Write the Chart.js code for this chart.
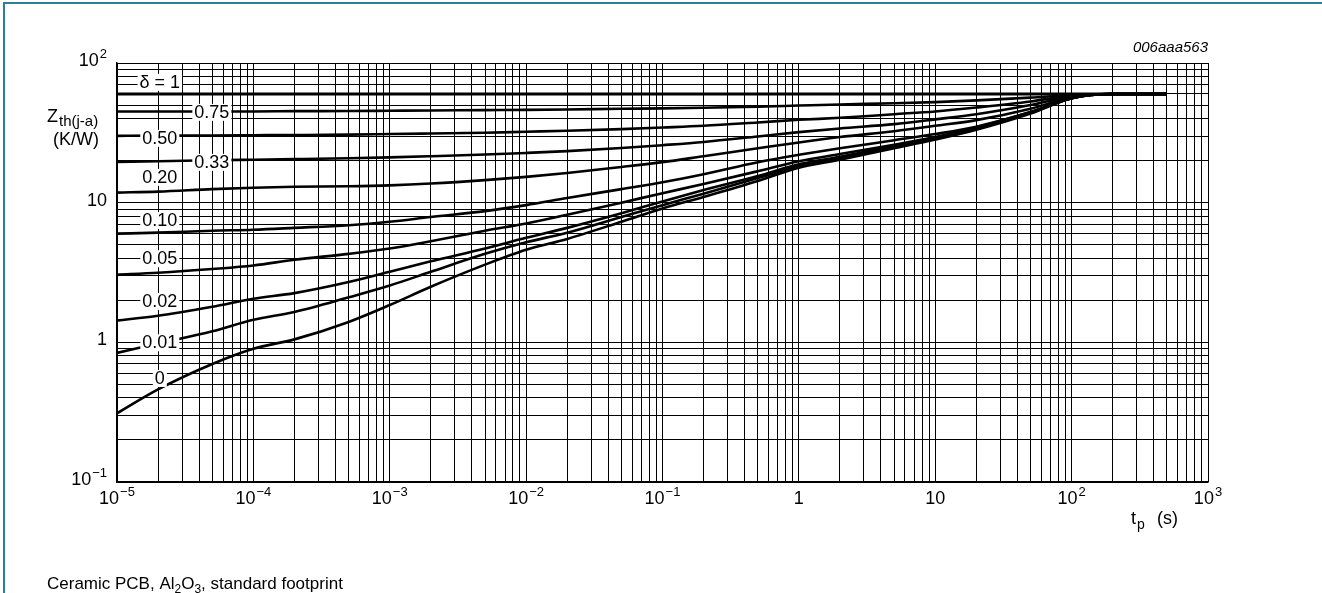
<!DOCTYPE html>
<html>
<head>
<meta charset="utf-8">
<script src="https://cdn.jsdelivr.net/npm/chart.js@4.4.0/dist/chart.umd.min.js"></script>
<style>
  html, body { margin: 0; padding: 0; background: #fff; }
  #c { display: block; }
</style>
</head>
<body>
<canvas id="c" width="1322" height="593"></canvas>
<script>
// pulse time tp (s)
var tp = [1e-5, 2e-5, 5e-5, 1e-4, 2e-4, 5e-4, 1e-3, 2e-3, 5e-3, 1e-2, 2e-2, 5e-2,
          0.1, 0.2, 0.5, 1, 2, 5, 10, 20, 50, 100, 200, 500];

// Zth(j-a) in K/W, one array per duty cycle
var zth_d100 = [60, 60, 60, 60, 60, 60, 60, 60, 60, 60, 60, 60, 60, 60, 60, 60, 60, 60, 60, 60, 60, 60, 60, 60];
var zth_d075 = [45, 45, 45, 45, 45.2, 45.3, 45.5, 45.7, 46, 46.2, 46.5, 47, 47.3, 47.8, 48.7, 49.6, 50.5, 51.5, 52.5, 54, 56.5, 59, 60, 60];
var zth_d050 = [30.1, 30.2, 30.3, 30.4, 30.5, 30.7, 31, 31.3, 31.7, 32.2, 32.7, 33.6, 34.5, 35.5, 37.5, 39.2, 40.5, 43, 45, 48, 53, 58.5, 60, 60];
var zth_d033 = [19.6, 19.8, 20.1, 20.3, 20.5, 20.8, 21.1, 21.5, 22.1, 22.7, 23.4, 24.6, 25.8, 27.2, 29.8, 32, 34, 36.5, 39.5, 43, 50, 58, 60, 60];
var zth_d020 = [11.8, 12, 12.5, 12.8, 13, 13.1, 13.3, 13.7, 14.5, 15.3, 16.3, 18, 19.5, 21.5, 24.5, 27, 29.5, 32.5, 35.5, 39, 47, 57, 60, 60];
var zth_d010 = [6.0, 6.1, 6.3, 6.4, 6.6, 6.9, 7.3, 7.9, 8.7, 9.6, 10.8, 12.5, 14, 16, 19.5, 22, 24.5, 28, 31, 35, 44.5, 56, 60, 60];
var zth_d005 = [3.05, 3.15, 3.35, 3.55, 3.9, 4.3, 4.7, 5.3, 6.3, 7.1, 8.2, 10, 11.7, 13.6, 16.8, 19.8, 22.3, 26, 29.5, 34.5, 44.5, 56, 60, 60];
var zth_d002 = [1.43, 1.55, 1.8, 2.05, 2.25, 2.7, 3.2, 3.8, 4.7, 5.6, 6.6, 8.4, 10.2, 12.3, 15.5, 18.8, 21.3, 25.5, 29, 34, 44, 56, 60, 60];
var zth_d001 = [0.84, 0.98, 1.2, 1.45, 1.65, 2.1, 2.55, 3.2, 4.3, 5.2, 6.1, 7.9, 9.6, 11.6, 15, 18.3, 20.8, 25, 28.7, 33.7, 44, 56, 60, 60];
var zth_d000 = [0.31, 0.46, 0.7, 0.9, 1.05, 1.4, 1.85, 2.5, 3.6, 4.6, 5.5, 7.3, 9.1, 11, 14.3, 17.8, 20.3, 24.5, 28.3, 33.3, 43.5, 56, 60, 60];

// curve labels (duty cycle) and where they sit (tp, Zth)
var curveLabels = ['\u03b4 = 1', '0.75', '0.50', '0.33', '0.20', '0.10', '0.05', '0.02', '0.01', '0'];
var labelT = [2.06e-5, 4.96e-5, 2.06e-5, 4.96e-5, 2.06e-5, 2.06e-5, 2.06e-5, 2.06e-5, 2.06e-5, 2.06e-5];
var labelZ = [73.3, 44.7, 29.1, 19.6, 15.3, 7.5, 4.0, 1.98, 1.0, 0.556];

// axis tick labels: [base, exponent]
var xTicks = [1e-5, 1e-4, 1e-3, 1e-2, 1e-1, 1, 10, 100, 1000];
var xTickText = [['10', '\u22125'], ['10', '\u22124'], ['10', '\u22123'], ['10', '\u22122'], ['10', '\u22121'],
                 ['1', ''], ['10', ''], ['10', '2'], ['10', '3']];
var yTicks = [0.1, 1, 10, 100];
var yTickText = [['10', '\u22121'], ['1', ''], ['10', ''], ['10', '2']];

var FONT = '"Liberation Sans", Arial, Helvetica, sans-serif';

function pts(arr) {
  return tp.map(function (t, i) { return { x: t, y: arr[i] }; });
}

function logGrid(scale) {
  var out = [];
  var e0 = Math.floor(Math.log10(scale.min) + 1e-9);
  var e1 = Math.ceil(Math.log10(scale.max) - 1e-9);
  for (var e = e0; e <= e1; e++) {
    for (var m = 1; m <= 9; m++) {
      var v = m * Math.pow(10, e);
      if (v >= scale.min * 0.999 && v <= scale.max * 1.001) out.push({ value: v });
    }
  }
  scale.ticks = out;
}

function drawSup(ctx, base, sup, x, y, align) {
  ctx.font = '18px ' + FONT;
  var wb = ctx.measureText(base).width;
  ctx.font = '13px ' + FONT;
  var ws = sup ? ctx.measureText(sup).width + 1 : 0;
  var w = wb + ws;
  var x0 = align === 'right' ? x - w : (align === 'center' ? x - w / 2 : x);
  ctx.textAlign = 'left';
  ctx.textBaseline = 'middle';
  ctx.font = '18px ' + FONT;
  ctx.fillText(base, x0, y);
  if (sup) {
    ctx.font = '13px ' + FONT;
    ctx.fillText(sup, x0 + wb + 1, y - 7);
  }
}

var decor = {
  id: 'decor',
  afterDatasetsDraw: function (chart) {
    var ctx = chart.ctx, xs = chart.scales.x, ys = chart.scales.y;
    ctx.save();
    ctx.font = '18px ' + FONT;
    ctx.textBaseline = 'middle';
    ctx.textAlign = 'center';
    for (var i = 0; i < curveLabels.length; i++) {
      var px = xs.getPixelForValue(labelT[i]);
      var py = ys.getPixelForValue(labelZ[i]);
      var w = ctx.measureText(curveLabels[i]).width;
      ctx.fillStyle = '#fff';
      ctx.fillRect(px - w / 2 - 2, py - 8, w + 4, 17);
      ctx.fillStyle = '#000';
      ctx.fillText(curveLabels[i], px, py + 1);
    }
    ctx.restore();
  },
  afterDraw: function (chart) {
    var ctx = chart.ctx, xs = chart.scales.x, ys = chart.scales.y, a = chart.chartArea;
    ctx.save();
    ctx.fillStyle = '#000';
    for (var i = 0; i < xTicks.length; i++) {
      drawSup(ctx, xTickText[i][0], xTickText[i][1], xs.getPixelForValue(xTicks[i]), a.bottom + 17, 'center');
    }
    for (var j = 0; j < yTicks.length; j++) {
      drawSup(ctx, yTickText[j][0], yTickText[j][1], 107, ys.getPixelForValue(yTicks[j]) - 2, 'right');
    }
    // y axis title
    ctx.textBaseline = 'alphabetic';
    ctx.textAlign = 'left';
    ctx.font = '18px ' + FONT;
    ctx.fillText('Z', 47, 122);
    ctx.font = '15px ' + FONT;
    ctx.fillText('th(j-a)', 59, 126);
    ctx.font = '18px ' + FONT;
    ctx.fillText('(K/W)', 53, 145);
    // x axis title
    ctx.fillText('t', 1131, 524);
    ctx.font = '14px ' + FONT;
    ctx.fillText('p', 1137, 529);
    ctx.font = '18px ' + FONT;
    ctx.fillText('(s)', 1157, 524);
    // figure id
    ctx.font = 'italic 15px ' + FONT;
    ctx.textAlign = 'right';
    ctx.fillText('006aaa563', a.right, 52);
    // caption
    ctx.textAlign = 'left';
    var cx = 47, cy = 589;
    var parts = [['Ceramic PCB, Al', 0], ['2', 1], ['O', 0], ['3', 1], [', standard footprint', 0]];
    parts.forEach(function (p) {
      ctx.font = (p[1] ? '12px ' : '17px ') + FONT;
      ctx.fillText(p[0], cx, cy + (p[1] ? 4 : 0));
      cx += ctx.measureText(p[0]).width;
    });
    // page frame
    ctx.strokeStyle = '#2b7f99';
    ctx.lineWidth = 2;
    ctx.beginPath();
    ctx.moveTo(4, 593);
    ctx.lineTo(4, 3);
    ctx.lineTo(1322, 3);
    ctx.stroke();
    ctx.restore();
  }
};

function ds(label, arr, w) {
  return {
    label: label,
    data: pts(arr),
    borderColor: '#000',
    borderWidth: w,
    pointRadius: 0,
    fill: false,
    cubicInterpolationMode: 'monotone'
  };
}

new Chart(document.getElementById('c'), {
  type: 'line',
  data: {
    datasets: [
      ds('1', zth_d100, 3),
      ds('0.75', zth_d075, 2.6),
      ds('0.50', zth_d050, 2.6),
      ds('0.33', zth_d033, 2.6),
      ds('0.20', zth_d020, 2.6),
      ds('0.10', zth_d010, 2.6),
      ds('0.05', zth_d005, 2.6),
      ds('0.02', zth_d002, 2.6),
      ds('0.01', zth_d001, 2.6),
      ds('0', zth_d000, 2.6)
    ]
  },
  options: {
    responsive: false,
    animation: false,
    devicePixelRatio: 1,
    layout: { padding: { left: 117, right: 114, top: 63, bottom: 111 } },
    plugins: { legend: { display: false }, tooltip: { enabled: false } },
    scales: {
      x: {
        type: 'logarithmic',
        min: 1e-5,
        max: 1000,
        afterBuildTicks: logGrid,
        grid: { color: '#000', lineWidth: 1, drawTicks: false },
        border: { color: '#000', width: 1.5 },
        ticks: { display: false }
      },
      y: {
        type: 'logarithmic',
        min: 0.1,
        max: 100,
        afterBuildTicks: logGrid,
        grid: { color: '#000', lineWidth: 1, drawTicks: false },
        border: { color: '#000', width: 1.5 },
        ticks: { display: false }
      }
    }
  },
  plugins: [decor]
});
</script>
</body>
</html>
